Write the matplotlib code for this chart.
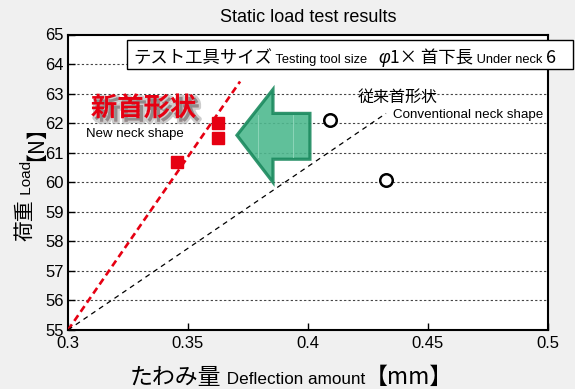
import matplotlib
matplotlib.use('Agg')
import matplotlib.pyplot as plt
import matplotlib.patheffects as pe
from matplotlib.patches import Polygon, Rectangle

# measured points
new_x = [0.3456, 0.3623, 0.3623]
new_y = [60.69, 62.01, 61.50]
conv_x = [0.4092, 0.4325]
conv_y = [62.09, 60.07]

# fitted lines (start / end)
new_fit_x = [0.30, 0.3717]
new_fit_y = [55.0, 63.41]
conv_fit_x = [0.30, 0.4325]
conv_fit_y = [55.0, 62.33]

x_ticks = [0.3, 0.35, 0.4, 0.45, 0.5]
x_labels = ['0.3', '0.35', '0.4', '0.45', '0.5']
y_ticks = list(range(55, 66))

JP = ['Noto Sans CJK JP', 'DejaVu Sans']
EN = ['Liberation Sans', 'DejaVu Sans']
RED = '#e60012'

fig = plt.figure(figsize=(5.75, 3.89), dpi=100, facecolor='#f0f0f0')
ax = fig.add_axes([68 / 575, 1 - 330 / 389, 480 / 575, 295.5 / 389])
ax.set_facecolor('white')

ax.set_xlim(0.3, 0.5)
ax.set_ylim(55, 65)
ax.set_xticks(x_ticks)
ax.set_xticklabels(x_labels)
ax.set_yticks(y_ticks)
for lab in ax.get_xticklabels() + ax.get_yticklabels():
    lab.set_fontfamily(EN)
    lab.set_fontsize(12)
ax.tick_params(direction='in', length=5, width=1)
ax.tick_params(axis='x', pad=4)
ax.tick_params(axis='y', pad=3)
for s in ax.spines.values():
    s.set_linewidth(1.5)

for yv in y_ticks[1:-1]:
    ax.axhline(yv, color='#444444', lw=0.8, dashes=(2, 2), zorder=1)

ax.plot(new_fit_x, new_fit_y, color=RED, lw=1.9, dashes=(2.6, 1.6), zorder=3)
ax.plot(conv_fit_x, conv_fit_y, color='black', lw=0.9, dashes=(4, 3.5), zorder=3)

# green arrow pointing left
arrow = [(0.3704, 61.59), (0.3854, 63.14), (0.3854, 62.33), (0.4008, 62.33),
         (0.4008, 60.78), (0.3854, 60.78), (0.3854, 60.0)]
ax.add_patch(Polygon(arrow, closed=True, facecolor='#4fb98f', edgecolor='#1b8a5e',
                     lw=2.3, alpha=0.9, joinstyle='miter', zorder=4))
for xv in [0.3792, 0.3937]:
    ax.plot([xv, xv], [60.85, 62.26], color='#93d9bd', lw=0.6, zorder=4)

ax.plot(new_x, new_y, 's', color=RED, ms=8.4, zorder=5)
ax.plot(conv_x, conv_y, 'o', mfc='white', mec='black', ms=9, mew=1.8, zorder=5)

ax.text(0.3095, 62.5, '新首形状', color=RED, fontsize=19, fontweight='bold',
        style='italic', family=JP, va='center', zorder=6,
        path_effects=[pe.Stroke(offset=(2.5, -2.5), linewidth=3.5, foreground='#b8b8b8', alpha=0.7),
                      pe.withSimplePatchShadow(offset=(2.5, -2.5), shadow_rgbFace='#8a8a8a', alpha=0.9)])
ax.text(0.3075, 61.63, 'New neck shape', fontsize=9.5, family=EN, va='center', zorder=6)
ax.text(0.4208, 62.87, '従来首形状', fontsize=11.5, family=JP, va='center', zorder=6)
ax.text(0.4355, 62.27, 'Conventional neck shape', fontsize=9.6, family=EN, va='center', zorder=6)

ax.set_title('Static load test results', fontsize=13, family=EN, pad=9)

fig.canvas.draw()
r = fig.canvas.get_renderer()
W, H = fig.bbox.width, fig.bbox.height


def chain(parts, x0, y0, rot=0, zorder=10):
    # place text pieces one after another, baseline aligned (pixels from top-left)
    x, y = x0, H - y0
    for s, size, fam, *extra in parts:
        kw = extra[0] if extra else {}
        t = fig.text(x / W, y / H, s, fontsize=size, family=fam, ha='left', va='baseline',
                     rotation=rot, rotation_mode='anchor', zorder=zorder, **kw)
        bb = t.get_window_extent(r)
        if rot == 0:
            x += bb.width
        else:
            y += bb.height


# tool size box
fig.patches.append(Rectangle((127 / W, 1 - 69 / H), 446 / W, 29 / H, transform=fig.transFigure,
                             facecolor='white', edgecolor='black', lw=1, zorder=9))
chain([('テスト工具サイズ', 12.5, JP), (' Testing tool size   ', 9.3, EN),
       ('φ', 13, EN, {'style': 'italic'}), ('1× 首下長', 12.5, JP),
       (' Under neck ', 9.3, EN), ('6', 13, JP)], 133, 63)

chain([('たわみ量', 16.5, JP), (' Deflection amount', 12.3, EN), ('【mm】', 16.5, JP)], 130, 384)
chain([('荷重', 15, JP), (' Load', 11, EN), ('【N】', 15, JP)], 31, 241, rot=90)

fig.savefig('out.png', dpi=100, facecolor=fig.get_facecolor())
